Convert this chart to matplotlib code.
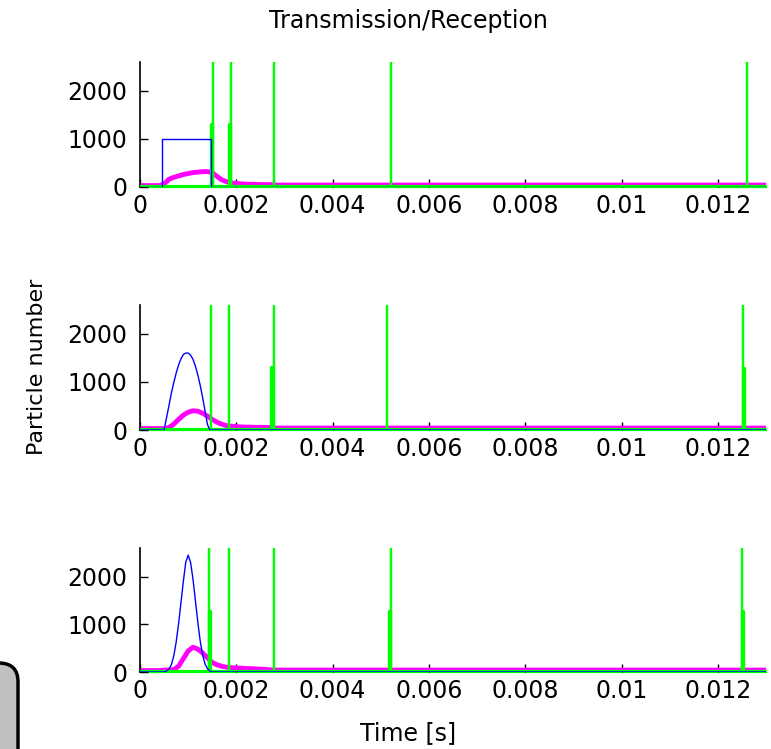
import numpy as np
import matplotlib.pyplot as plt
from matplotlib.patches import FancyBboxPatch

# ---- data ----
t_end = 0.013

# blue: transmitted pulse (one per panel)
blue_t1 = [0.0, 0.00046, 0.00046, 0.00147, 0.00147, 0.013]
blue_v1 = [0, 0, 1000, 1000, 0, 0]

blue_t2 = [0.0, 0.00045, 0.00050, 0.00055, 0.00060, 0.00065, 0.00070, 0.00075, 0.00080,
           0.00085, 0.00090, 0.00095, 0.00100, 0.00105, 0.00110, 0.00115, 0.00120,
           0.00125, 0.00130, 0.00135, 0.00140, 0.00145, 0.00150, 0.013]
blue_v2 = [0, 0, 0, 250, 500, 760, 980, 1180, 1350, 1480, 1570, 1600, 1600, 1560,
           1470, 1330, 1150, 930, 680, 400, 120, 0, 0, 0]

blue_t3 = [0.0, 0.00050, 0.00055, 0.00060, 0.00065, 0.00070, 0.00075, 0.00080, 0.00085,
           0.00090, 0.00095, 0.00100, 0.00105, 0.00110, 0.00115, 0.00120, 0.00125,
           0.00130, 0.00135, 0.00140, 0.00145, 0.00150, 0.013]
blue_v3 = [0, 0, 20, 60, 150, 330, 620, 1000, 1450, 1900, 2300, 2450, 2300, 1950,
           1500, 1050, 650, 360, 170, 70, 20, 0, 0]

# magenta: received particles
mag_t = [0.0, 0.0004, 0.0005, 0.0006, 0.0007, 0.0008, 0.0009, 0.0010, 0.0011, 0.0012,
         0.0013, 0.0014, 0.0015, 0.0016, 0.0017, 0.0018, 0.0019, 0.0020, 0.0021,
         0.0022, 0.0023, 0.0024, 0.0025, 0.0026, 0.0027, 0.0028, 0.0029, 0.013]
mag_v1 = [30, 30, 60, 160, 200, 230, 260, 280, 300, 310, 320, 320, 300, 220, 150,
          110, 85, 75, 65, 60, 55, 55, 50, 50, 50, 40, 40, 40]
mag_v2 = [30, 30, 30, 50, 120, 220, 310, 370, 400, 390, 350, 290, 220, 160, 120,
          90, 80, 70, 65, 60, 60, 55, 55, 55, 50, 40, 40, 40]
mag_v3 = [30, 30, 40, 40, 50, 120, 280, 440, 520, 480, 400, 300, 200, 150, 120,
          100, 90, 85, 80, 75, 70, 65, 60, 55, 45, 40, 40, 40]

# green: reflection events (time, height)
green_tall = [
    [0.001525, 0.001893, 0.002774, 0.005216, 0.012600],
    [0.001477, 0.001845, 0.002774, 0.005130, 0.012520],
    [0.001436, 0.001845, 0.002774, 0.005216, 0.012500],
]
green_short = [
    [(0.00149, 1300), (0.00186, 1300)],
    [(0.00275, 1290), (0.01255, 1270)],
    [(0.00146, 1250), (0.00519, 1250), (0.01252, 1250)],
]
tall_h = 5000

xticks = [0, 0.002, 0.004, 0.006, 0.008, 0.010, 0.012]
xticklabels = ['0', '0.002', '0.004', '0.006', '0.008', '0.01', '0.012']
yticks = [0, 1000, 2000]

blue_t = [blue_t1, blue_t2, blue_t3]
blue_v = [blue_v1, blue_v2, blue_v3]
mag_v = [mag_v1, mag_v2, mag_v3]


def spikes(events):
    xs, ys = [0.0], [0.0]
    for t, h in events:
        xs += [t, t, t]
        ys += [0, h, 0]
    xs.append(t_end)
    ys.append(0)
    return xs, ys


fs = 17
fig = plt.figure(figsize=(7.71, 7.49), dpi=100)
W, H = 771, 749

# axes boxes in pixels: (left, top, right, bottom)
boxes = [(140, 62, 766, 187), (140, 305, 766, 430), (140, 548, 766, 672)]

for i, (l, t, r, b) in enumerate(boxes):
    ax = fig.add_axes([l / W, (H - b) / H, (r - l) / W, (b - t) / H])
    ax.axhline(0, color='#00ff00', lw=1.6, zorder=1, clip_on=False)
    ax.plot(mag_t, mag_v[i], color='#ff00ff', lw=3.5, zorder=2)
    gx, gy = spikes([(tt, tall_h) for tt in green_tall[i]])
    ax.plot(gx, gy, color='#00ff00', lw=1.6, zorder=3)
    sx, sy = spikes(green_short[i])
    ax.plot(sx, sy, color='#00ff00', lw=3.0, zorder=3)
    ax.plot(blue_t[i], blue_v[i], color='#0000ff', lw=1.0, zorder=4)

    ax.set_xlim(0, t_end)
    ax.set_ylim(0, 2600)
    ax.set_xticks(xticks)
    ax.set_xticklabels(xticklabels)
    ax.set_yticks(yticks)
    ax.tick_params(direction='in', length=6, width=1, labelsize=fs, color='black')
    ax.tick_params(axis='y', pad=9)
    ax.tick_params(axis='x', pad=5)
    for s in ['top', 'right']:
        ax.spines[s].set_visible(False)
    ax.spines['left'].set_linewidth(1.2)
    ax.spines['bottom'].set_visible(False)

fig.text(408 / W, 1 - 21 / H, 'Transmission/Reception', ha='center', va='center', fontsize=fs)
fig.text(408 / W, 1 - 733 / H, 'Time [s]', ha='center', va='center', fontsize=fs)
fig.text(37 / W, 1 - 367 / H, 'Particle number', ha='center', va='center',
         rotation=90, fontsize=16)

# partial grey rounded box at the lower left corner
box = FancyBboxPatch((-40 / W, -40 / H), 58 / W, 126 / H,
                     boxstyle='round,pad=0,rounding_size=0.025',
                     transform=fig.transFigure, facecolor='#c0c0c0',
                     edgecolor='black', lw=2.5, clip_on=False)
fig.patches.append(box)

fig.savefig('out.png', dpi=100)
